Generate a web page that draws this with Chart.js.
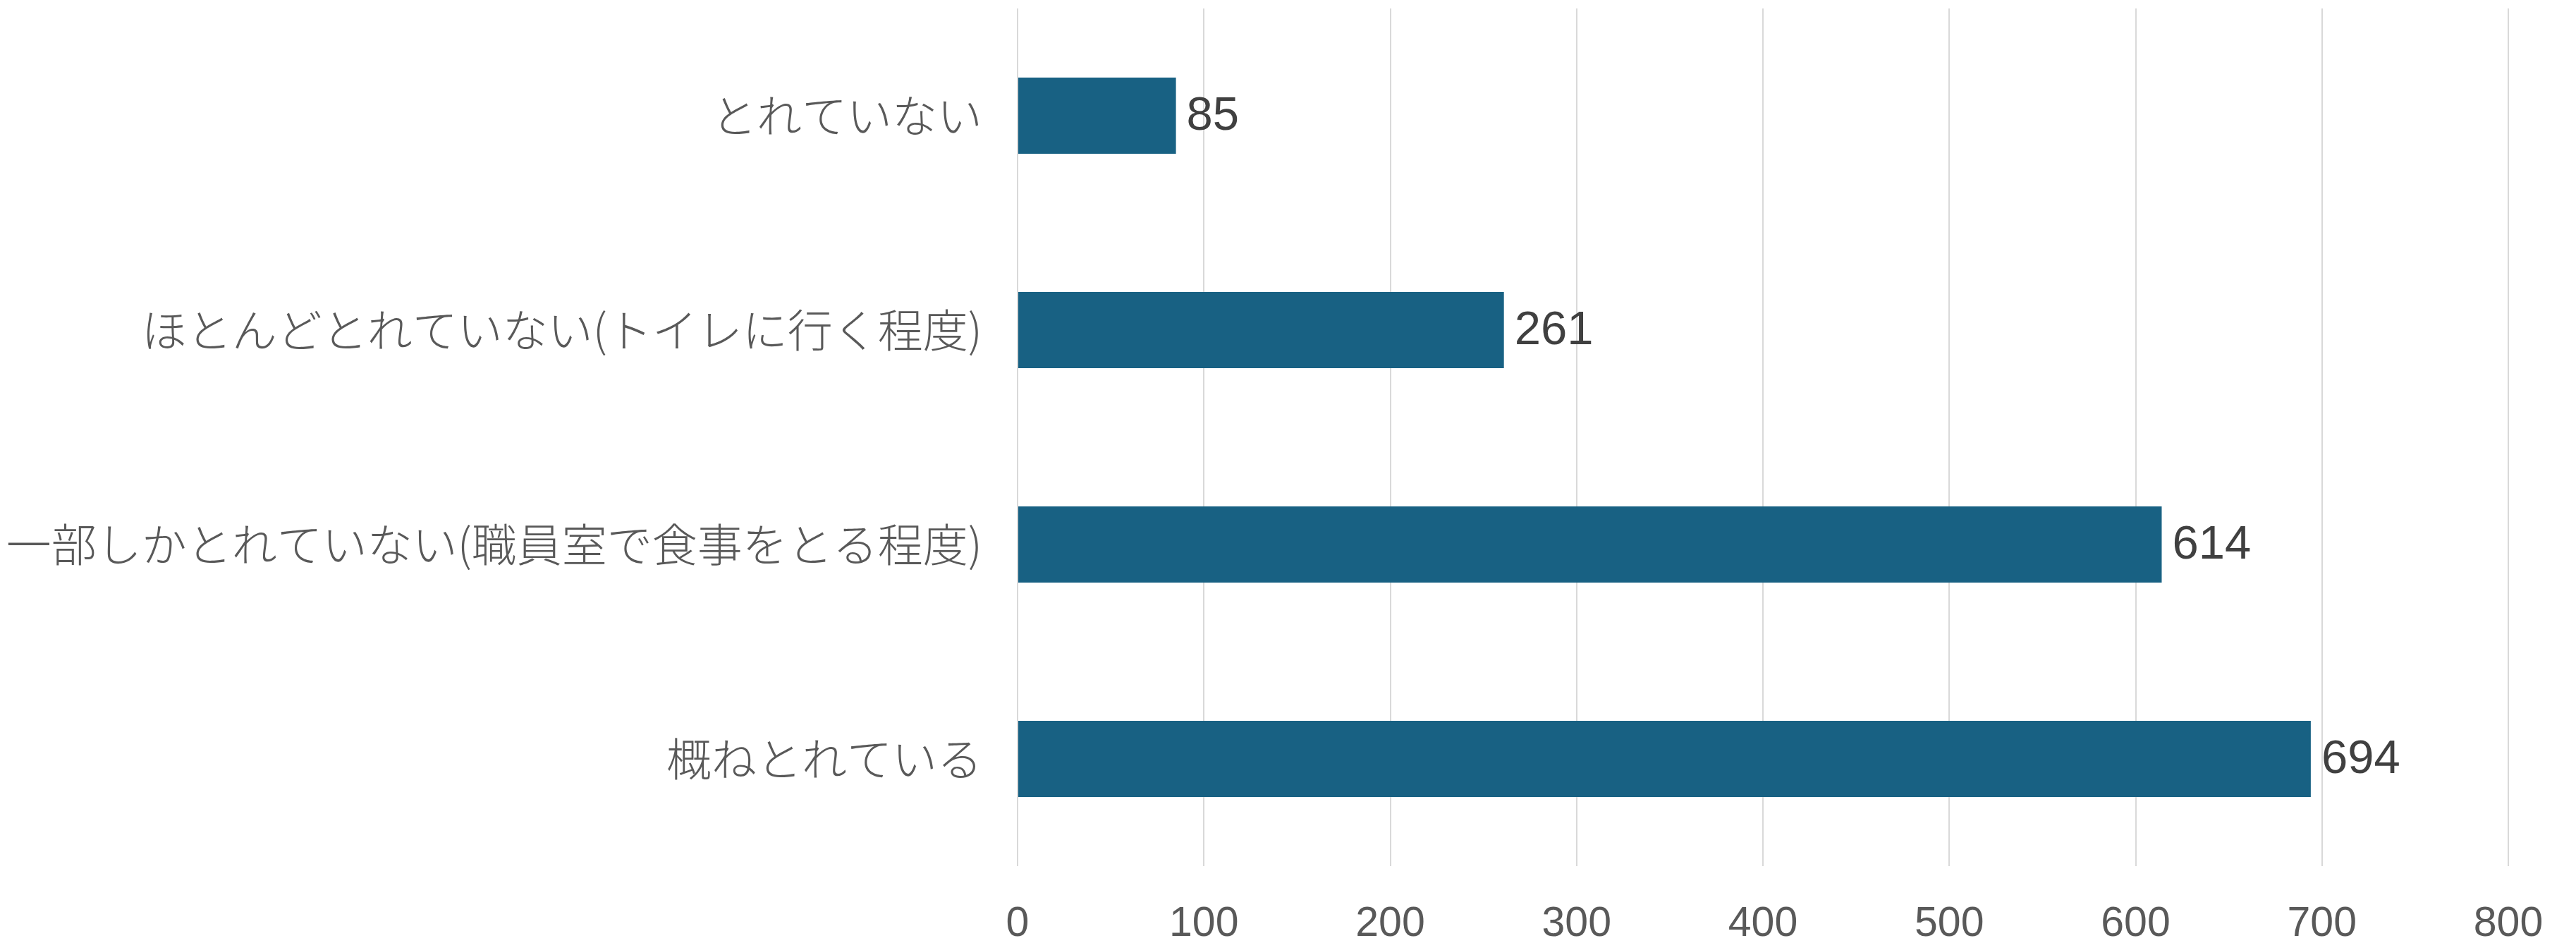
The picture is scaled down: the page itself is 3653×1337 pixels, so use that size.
<!DOCTYPE html>
<html>
<head>
<meta charset="utf-8">
<script src="https://cdn.jsdelivr.net/npm/chart.js@4/dist/chart.umd.min.js"></script>
<style>
  html, body { margin: 0; padding: 0; background: #fff; }
  #wrap { width: 3653px; height: 1337px; }
</style>
</head>
<body>
<div id="wrap"><canvas id="myChart"></canvas></div>
<script>
// data
const categories = [
  'とれていない',
  'ほとんどとれていない(トイレに行く程度)',
  '一部しかとれていない(職員室で食事をとる程度)',
  '概ねとれている'
];
const counts = [85, 261, 614, 694];
const tickValues = [0, 100, 200, 300, 400, 500, 600, 700, 800];

const barColor = '#186183';

// number at the end of each bar
const valueLabels = {
  id: 'valueLabels',
  afterDatasetsDraw(chart) {
    const ctx = chart.ctx;
    const meta = chart.getDatasetMeta(0);
    ctx.save();
    ctx.font = '67px "Liberation Sans", Arial, sans-serif';
    ctx.fillStyle = '#404040';
    ctx.textAlign = 'left';
    ctx.textBaseline = 'middle';
    meta.data.forEach(function(bar, i) {
      ctx.fillText(String(counts[i]), bar.x + 15, bar.y + 2);
    });
    ctx.restore();
  }
};

const myChartElem = document.getElementById('myChart').getContext('2d');
const myChart = new Chart(myChartElem, {
  type: 'bar',
  data: {
    labels: categories,
    datasets: [{
      data: counts,
      backgroundColor: barColor,
      borderWidth: 0,
      categoryPercentage: 1,
      barPercentage: 0.355
    }]
  },
  options: {
    indexAxis: 'y',
    responsive: true,
    maintainAspectRatio: false,
    animation: false,
    devicePixelRatio: 1,
    layout: { padding: { top: 12, right: 96, left: 0, bottom: 0 } },
    plugins: {
      legend: { display: false },
      tooltip: { enabled: false }
    },
    scales: {
      x: {
        min: 0,
        max: 800,
        afterBuildTicks: function(scale) {
          scale.ticks = tickValues.map(function(v) { return { value: v }; });
        },
        afterFit: function(scale) {
          scale.height = 109;
          scale.paddingLeft = 0;
          scale.paddingRight = 0;
        },
        grid: { color: '#d9d9d9', lineWidth: 2, drawTicks: false },
        border: { display: false },
        ticks: {
          padding: 47,
          color: '#595959',
          maxRotation: 0,
          font: { family: '"Liberation Sans", Arial, sans-serif', size: 59 }
        }
      },
      y: {
        afterFit: function(scale) {
          scale.width = 1443;
          scale.paddingTop = 0;
          scale.paddingBottom = 0;
        },
        grid: { display: false, drawTicks: false },
        border: { display: false },
        ticks: {
          padding: 50,
          color: '#595959',
          font: { family: '"Noto Sans CJK JP", sans-serif', size: 64, weight: 300 }
        }
      }
    }
  },
  plugins: [valueLabels]
});
</script>
</body>
</html>
